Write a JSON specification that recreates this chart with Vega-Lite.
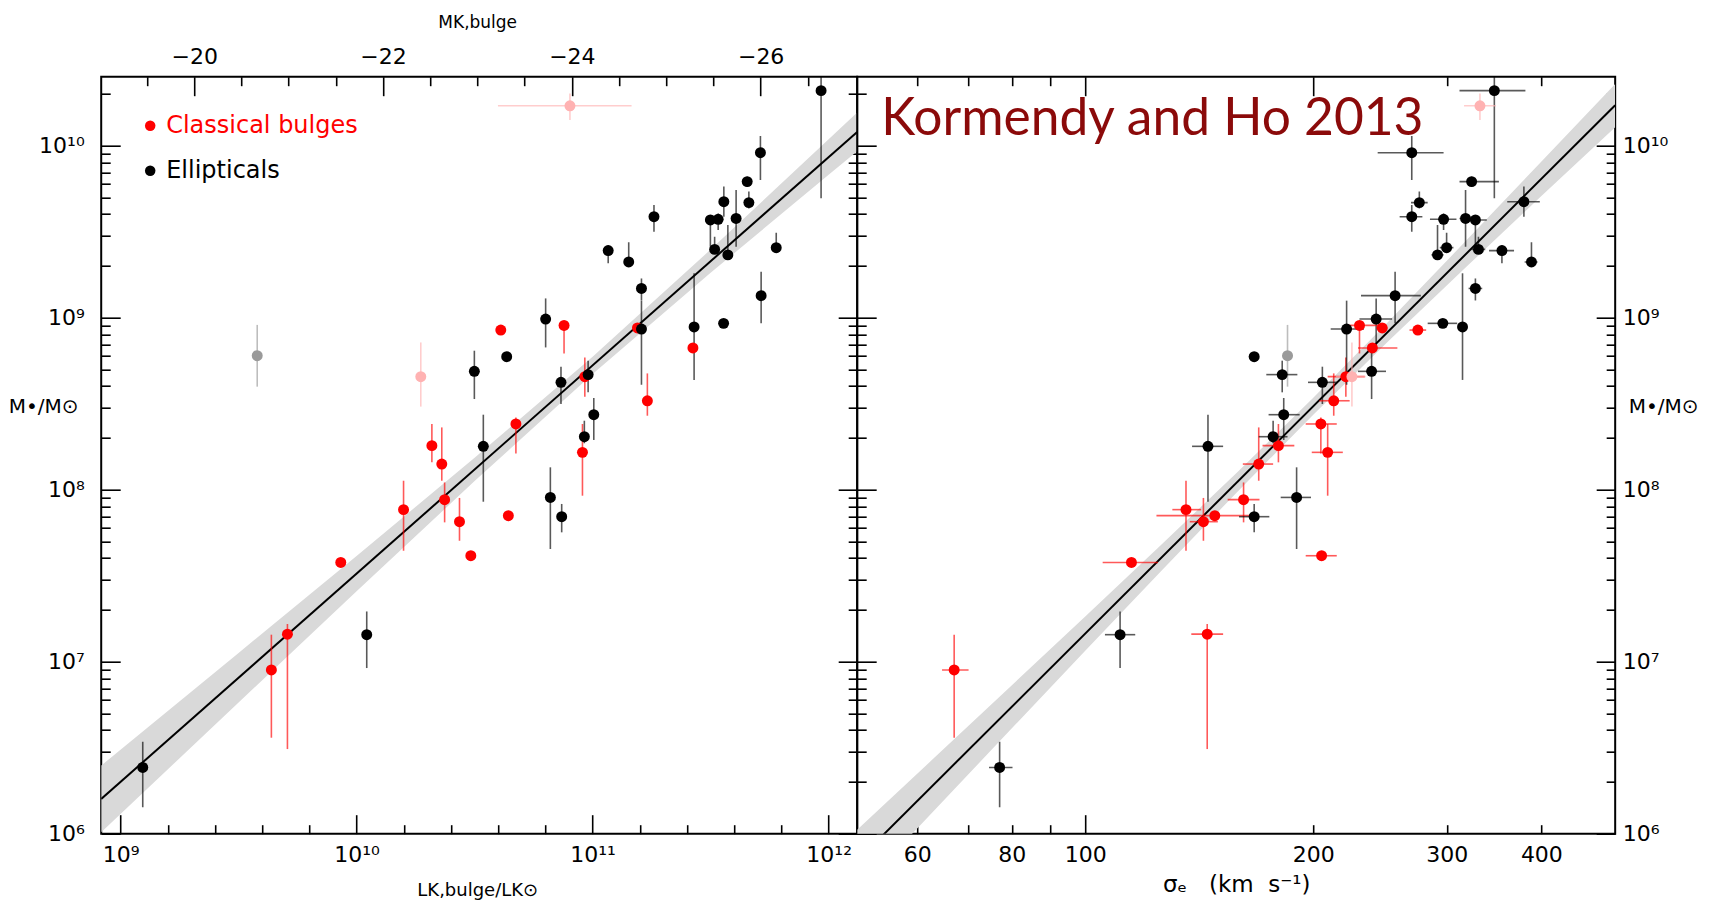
{
  "$schema": "https://vega.github.io/schema/vega-lite/v6.json",
  "background": "white",
  "padding": {"left": 7.2, "top": 12.7, "right": 0, "bottom": 0},
  "datasets": {
    "kh": [
      {"t":"Classical bulges","L":10.611,"M":8.928,"Mlo":8.905,"Mhi":8.95,"S":2.439,"Slo":2.428,"Shi":2.450},
      {"t":"Classical bulges","L":10.879,"M":8.955,"Mlo":8.792,"Mhi":8.97,"S":2.362,"Slo":2.344,"Shi":2.388},
      {"t":"Classical bulges","L":11.190,"M":8.940,"Mlo":8.92,"Mhi":8.96,"S":2.392,"Slo":2.384,"Shi":2.399},
      {"t":"Classical bulges","L":11.425,"M":8.824,"Mlo":8.80,"Mhi":8.85,"S":2.379,"Slo":2.360,"Shi":2.412},
      {"t":"Classical bulges","L":11.232,"M":8.517,"Mlo":8.430,"Mhi":8.676,"S":2.328,"Slo":2.309,"Shi":2.349},
      {"t":"Classical bulges","L":10.967,"M":8.657,"Mlo":8.541,"Mhi":8.769,"S":2.344,"Slo":2.320,"Shi":2.369},
      {"t":"Classical bulges","L":10.957,"M":8.217,"Mlo":7.965,"Mhi":8.382,"S":2.320,"Slo":2.299,"Shi":2.340},
      {"t":"Classical bulges","L":10.675,"M":8.382,"Mlo":8.211,"Mhi":8.420,"S":2.311,"Slo":2.291,"Shi":2.332},
      {"t":"Classical bulges","L":10.319,"M":8.256,"Mlo":8.159,"Mhi":8.382,"S":2.255,"Slo":2.234,"Shi":2.276},
      {"t":"Classical bulges","L":10.361,"M":8.149,"Mlo":8.052,"Mhi":8.362,"S":2.229,"Slo":2.208,"Shi":2.248},
      {"t":"Classical bulges","L":10.373,"M":7.942,"Mlo":7.810,"Mhi":8.042,"S":2.209,"Slo":2.188,"Shi":2.230},
      {"t":"Classical bulges","L":10.199,"M":7.884,"Mlo":7.645,"Mhi":8.052,"S":2.133,"Slo":2.115,"Shi":2.153},
      {"t":"Classical bulges","L":10.436,"M":7.814,"Mlo":7.703,"Mhi":7.952,"S":2.156,"Slo":2.138,"Shi":2.175},
      {"t":"Classical bulges","L":10.643,"M":7.849,"Mlo":7.83,"Mhi":7.87,"S":2.171,"Slo":2.094,"Shi":2.221},
      {"t":"Classical bulges","L":10.484,"M":7.616,"Mlo":7.59,"Mhi":7.64,"S":2.312,"Slo":2.291,"Shi":2.332},
      {"t":"Classical bulges","L":9.933,"M":7.577,"Mlo":7.56,"Mhi":7.59,"S":2.061,"Slo":2.023,"Shi":2.096},
      {"t":"Classical bulges","L":9.707,"M":7.160,"Mlo":6.492,"Mhi":7.219,"S":2.161,"Slo":2.140,"Shi":2.182},
      {"t":"Classical bulges","L":9.639,"M":6.952,"Mlo":6.558,"Mhi":7.157,"S":1.827,"Slo":1.811,"Shi":1.846},
      {"t":"Omitted ellipticals","L":9.579,"M":8.779,"Mlo":8.599,"Mhi":8.958,"S":2.267,"Slo":2.260,"Shi":2.274},
      {"t":"Omitted bulges","L":10.904,"Llo":10.599,"Lhi":11.165,"M":10.232,"Mlo":10.149,"Mhi":10.304,"S":2.521,"Slo":2.500,"Shi":2.542},
      {"t":"Omitted bulges","L":10.272,"M":8.657,"Mlo":8.483,"Mhi":8.856,"S":2.352,"Slo":2.331,"Shi":2.370},
      {"t":"Ellipticals","L":11.968,"M":10.320,"Mlo":9.694,"Mhi":10.57,"S":2.540,"Slo":2.494,"Shi":2.581},
      {"t":"Ellipticals","L":11.711,"M":9.959,"Mlo":9.801,"Mhi":10.056,"S":2.431,"Slo":2.386,"Shi":2.473},
      {"t":"Ellipticals","L":11.655,"M":9.791,"Mlo":9.76,"Mhi":9.82,"S":2.510,"Slo":2.494,"Shi":2.546},
      {"t":"Ellipticals","L":11.662,"M":9.669,"Mlo":9.635,"Mhi":9.733,"S":2.441,"Slo":2.430,"Shi":2.452},
      {"t":"Ellipticals","L":11.556,"M":9.674,"Mlo":9.587,"Mhi":9.762,"S":2.579,"Slo":2.557,"Shi":2.600},
      {"t":"Ellipticals","L":11.499,"M":9.568,"Mlo":9.413,"Mhi":9.59,"S":2.515,"Slo":2.505,"Shi":2.530},
      {"t":"Ellipticals","L":11.532,"M":9.572,"Mlo":9.510,"Mhi":9.606,"S":2.473,"Slo":2.455,"Shi":2.490},
      {"t":"Ellipticals","L":11.608,"M":9.577,"Mlo":9.413,"Mhi":9.742,"S":2.502,"Slo":2.494,"Shi":2.509},
      {"t":"Ellipticals","L":11.517,"M":9.397,"Mlo":9.37,"Mhi":9.471,"S":2.519,"Slo":2.510,"Shi":2.528},
      {"t":"Ellipticals","L":11.573,"M":9.365,"Mlo":9.34,"Mhi":9.539,"S":2.465,"Slo":2.457,"Shi":2.473},
      {"t":"Ellipticals","L":11.778,"M":9.407,"Mlo":9.38,"Mhi":9.494,"S":2.477,"Slo":2.468,"Shi":2.486},
      {"t":"Ellipticals","L":11.260,"M":9.587,"Mlo":9.500,"Mhi":9.655,"S":2.431,"Slo":2.415,"Shi":2.445},
      {"t":"Ellipticals","L":11.066,"M":9.390,"Mlo":9.316,"Mhi":9.42,"S":2.550,"Slo":2.533,"Shi":2.566},
      {"t":"Ellipticals","L":11.153,"M":9.324,"Mlo":9.30,"Mhi":9.438,"S":2.589,"Slo":2.580,"Shi":2.597},
      {"t":"Ellipticals","L":11.207,"M":9.170,"Mlo":9.10,"Mhi":9.228,"S":2.515,"Slo":2.506,"Shi":2.524},
      {"t":"Ellipticals","L":11.207,"M":8.934,"Mlo":8.610,"Mhi":9.099,"S":2.345,"Slo":2.324,"Shi":2.368},
      {"t":"Ellipticals","L":11.714,"M":9.128,"Mlo":8.967,"Mhi":9.267,"S":2.409,"Slo":2.364,"Shi":2.443},
      {"t":"Ellipticals","L":11.430,"M":8.946,"Mlo":8.638,"Mhi":9.258,"S":2.498,"Slo":2.492,"Shi":2.504},
      {"t":"Ellipticals","L":11.555,"M":8.967,"Mlo":8.945,"Mhi":8.99,"S":2.472,"Slo":2.452,"Shi":2.491},
      {"t":"Ellipticals","L":10.801,"M":8.992,"Mlo":8.827,"Mhi":9.112,"S":2.384,"Slo":2.362,"Shi":2.405},
      {"t":"Ellipticals","L":10.636,"M":8.773,"Mlo":8.755,"Mhi":8.80,"S":2.223,"Slo":2.216,"Shi":2.229},
      {"t":"Ellipticals","L":10.499,"M":8.688,"Mlo":8.527,"Mhi":8.808,"S":2.378,"Slo":2.360,"Shi":2.397},
      {"t":"Ellipticals","L":10.866,"M":8.624,"Mlo":8.498,"Mhi":8.715,"S":2.313,"Slo":2.294,"Shi":2.333},
      {"t":"Ellipticals","L":10.981,"M":8.669,"Mlo":8.566,"Mhi":8.750,"S":2.260,"Slo":2.239,"Shi":2.280},
      {"t":"Ellipticals","L":11.005,"M":8.436,"Mlo":8.289,"Mhi":8.533,"S":2.262,"Slo":2.242,"Shi":2.283},
      {"t":"Ellipticals","L":10.965,"M":8.308,"Mlo":8.27,"Mhi":8.401,"S":2.248,"Slo":2.229,"Shi":2.267},
      {"t":"Ellipticals","L":10.537,"M":8.252,"Mlo":7.930,"Mhi":8.436,"S":2.162,"Slo":2.141,"Shi":2.182},
      {"t":"Ellipticals","L":10.821,"M":7.955,"Mlo":7.655,"Mhi":8.130,"S":2.279,"Slo":2.258,"Shi":2.298},
      {"t":"Ellipticals","L":10.869,"M":7.843,"Mlo":7.752,"Mhi":7.917,"S":2.223,"Slo":2.203,"Shi":2.243},
      {"t":"Ellipticals","L":10.043,"M":7.157,"Mlo":6.963,"Mhi":7.292,"S":2.046,"Slo":2.026,"Shi":2.066},
      {"t":"Ellipticals","L":9.094,"M":6.385,"Mlo":6.153,"Mhi":6.535,"S":1.887,"Slo":1.873,"Shi":1.904}
    ],
    "bandL": [
      {"L":8.918,"lo":6.008,"hi":6.396},
      {"L":9.5,"lo":6.763,"hi":7.051},
      {"L":10.0,"lo":7.409,"hi":7.615},
      {"L":10.5,"lo":8.050,"hi":8.185},
      {"L":11.0,"lo":8.673,"hi":8.773},
      {"L":11.5,"lo":9.261,"hi":9.396},
      {"L":12.0,"lo":9.831,"hi":10.037},
      {"L":12.121,"lo":9.968,"hi":10.193}
    ],
    "lineL": [
      {"L":8.918,"M":6.202},
      {"L":12.121,"M":10.080}
    ],
    "bandS": [
      {"S":1.699,"lo":5.661,"hi":6.023},
      {"S":1.8,"lo":6.132,"hi":6.438},
      {"S":1.9,"lo":6.598,"hi":6.850},
      {"S":2.0,"lo":7.063,"hi":7.263},
      {"S":2.1,"lo":7.526,"hi":7.678},
      {"S":2.2,"lo":7.984,"hi":8.099},
      {"S":2.301,"lo":8.436,"hi":8.534},
      {"S":2.4,"lo":8.863,"hi":8.977},
      {"S":2.5,"lo":9.283,"hi":9.435},
      {"S":2.6,"lo":9.698,"hi":9.898},
      {"S":2.6995,"lo":10.107,"hi":10.358}
    ],
    "lineS": [
      {"S":1.699,"M":5.842},
      {"S":2.6995,"M":10.235}
    ],
    "mk": [{"MK": -20}, {"MK": -26}]
  },
  "spacing": 0,
  "bounds": "flush",
  "resolve": {"scale": {"fill": "independent", "color": "independent", "stroke": "independent"}, "legend": {"fill": "independent", "color": "independent"}},
  "hconcat": [
    {
      "width": 756,
      "height": 757,
      "layer": [
        {
          "encoding": {
            "x": {"field": "L", "type": "quantitative",
              "scale": {"domain": [8.918, 12.121], "nice": false, "zero": false},
              "axis": {"orient": "bottom",
                "values": [9, 9.2, 9.4, 9.6, 9.8, 10, 10.2, 10.4, 10.6, 10.8, 11, 11.2, 11.4, 11.6, 11.8, 12],
                "tickSize": {"condition": {"test": "abs(datum.value - round(datum.value)) < 0.001", "value": -19}, "value": -9},
                "labelExpr": "datum.value == 9 ? '10⁹' : datum.value == 10 ? '10¹⁰' : datum.value == 11 ? '10¹¹' : datum.value == 12 ? '10¹²' : ''",
                "labelPadding": 30,
                "title": "LK,bulge/LK⊙", "titleFontSize": 18, "titleX": 376, "titleY": 57, "titleAlign": "center", "titleBaseline": "middle"}},
            "y": {"field": "M", "type": "quantitative",
              "scale": {"domain": [6, 10.401], "nice": false, "zero": false},
              "axis": {"orient": "left",
                "values": [6, 6.30103, 6.47712, 6.60206, 6.69897, 6.77815, 6.8451, 6.90309, 6.95424, 7, 7.30103, 7.47712, 7.60206, 7.69897, 7.77815, 7.8451, 7.90309, 7.95424, 8, 8.30103, 8.47712, 8.60206, 8.69897, 8.77815, 8.8451, 8.90309, 8.95424, 9, 9.30103, 9.47712, 9.60206, 9.69897, 9.77815, 9.8451, 9.90309, 9.95424, 10, 10.30103],
                "tickSize": {"condition": {"test": "abs(datum.value - round(datum.value)) < 0.001", "value": -19}, "value": -9},
                "labelExpr": "datum.value == 6 ? '10⁶' : datum.value == 7 ? '10⁷' : datum.value == 8 ? '10⁸' : datum.value == 9 ? '10⁹' : datum.value == 10 ? '10¹⁰' : ''",
                "labelPadding": 36,
                "title": "M•/M⊙", "titleFontSize": 20, "titleAngle": 0, "titleX": -58, "titleY": 330, "titleAlign": "center", "titleBaseline": "middle"}}
          },
          "layer": [
            {"data": {"name": "bandL"}, "mark": {"type": "area", "color": "#d9d9d9", "clip": true},
             "encoding": {"y": {"field": "lo", "type": "quantitative"}, "y2": {"field": "hi"}}},
            {"data": {"name": "lineL"}, "mark": {"type": "line", "color": "black", "strokeWidth": 2, "clip": true}, "encoding": {}},
            {"data": {"name": "kh"}, "mark": {"type": "rule", "strokeWidth": 1.6, "opacity": 0.65, "clip": true},
             "encoding": {"y": {"field": "Mlo", "type": "quantitative"}, "y2": {"field": "Mhi"},
               "stroke": {"field": "t", "type": "nominal", "legend": null,
                 "scale": {"domain": ["Classical bulges", "Ellipticals", "Omitted ellipticals", "Omitted bulges"], "range": ["#ff0000", "#000000", "#9a9a9a", "#ffb2b2"]}}}},
            {"data": {"name": "kh"}, "transform": [{"filter": "isValid(datum.Llo)"}],
             "mark": {"type": "rule", "strokeWidth": 1.6, "opacity": 0.65, "clip": true},
             "encoding": {"x": {"field": "Llo", "type": "quantitative"}, "x2": {"field": "Lhi"},
               "stroke": {"field": "t", "type": "nominal", "legend": null}}},
            {"data": {"name": "kh"}, "transform": [{"filter": "datum.t != 'Ellipticals'"}],
             "mark": {"type": "point", "filled": true, "size": 120, "opacity": 1, "strokeWidth": 0},
             "encoding": {"fill": {"field": "t", "type": "nominal",
               "scale": {"domain": ["Classical bulges", "Omitted ellipticals", "Omitted bulges"], "range": ["#ff0000", "#9a9a9a", "#ffb2b2"]},
               "legend": {"values": ["Classical bulges"], "orient": "none", "legendX": 37, "legendY": 37, "title": null, "padding": 0,
                 "symbolType": "circle", "symbolSize": 110, "symbolStrokeWidth": 0, "labelFont": "DejaVu Sans", "labelFontSize": 24, "labelOffset": 4, "labelLimit": 0,
                 "labelColor": "#ff0000"}}}},
            {"data": {"name": "kh"}, "transform": [{"filter": "datum.t == 'Ellipticals'"}],
             "mark": {"type": "point", "filled": true, "size": 120, "opacity": 1, "strokeWidth": 0},
             "encoding": {"color": {"field": "t", "type": "nominal",
               "scale": {"domain": ["Ellipticals"], "range": ["#000000"]},
               "legend": {"values": ["Ellipticals"], "orient": "none", "legendX": 37, "legendY": 82, "title": null, "padding": 0,
                 "symbolType": "circle", "symbolSize": 110, "symbolStrokeWidth": 0, "labelFont": "DejaVu Sans", "labelFontSize": 24, "labelOffset": 4, "labelLimit": 0,
                 "labelColor": "#000000"}}}}
          ]
        },
        {
          "data": {"name": "mk"},
          "mark": {"type": "point", "opacity": 0},
          "encoding": {
            "x": {"field": "MK", "type": "quantitative",
              "scale": {"domain": [-19.015, -27.0225], "nice": false, "zero": false},
              "axis": {"orient": "top",
                "values": [-19.5, -20, -20.5, -21, -21.5, -22, -22.5, -23, -23.5, -24, -24.5, -25, -25.5, -26, -26.5],
                "tickSize": {"condition": {"test": "datum.value % 2 == 0", "value": -19}, "value": -9},
                "labelExpr": "datum.value % 2 == 0 ? '−' + abs(datum.value) : ''",
                "labelPadding": 27,
                "title": "MK,bulge", "titleFontSize": 17, "titleX": 376, "titleY": -54, "titleAlign": "center", "titleBaseline": "middle"}}
          }
        },
        {
          "data": {"name": "kh"},
          "mark": {"type": "point", "opacity": 0},
          "encoding": {
            "y": {"field": "M", "type": "quantitative",
              "scale": {"domain": [6, 10.401], "nice": false, "zero": false},
              "axis": {"orient": "right", "labels": false, "title": null,
                "values": [6, 6.30103, 6.47712, 6.60206, 6.69897, 6.77815, 6.8451, 6.90309, 6.95424, 7, 7.30103, 7.47712, 7.60206, 7.69897, 7.77815, 7.8451, 7.90309, 7.95424, 8, 8.30103, 8.47712, 8.60206, 8.69897, 8.77815, 8.8451, 8.90309, 8.95424, 9, 9.30103, 9.47712, 9.60206, 9.69897, 9.77815, 9.8451, 9.90309, 9.95424, 10, 10.30103],
                "tickSize": {"condition": {"test": "abs(datum.value - round(datum.value)) < 0.001", "value": -19}, "value": -9}}}
          }
        }
      ],
      "resolve": {"scale": {"x": "independent", "y": "independent"}, "axis": {"x": "independent", "y": "independent"}}
    },
    {
      "width": 758,
      "height": 757,
      "title": {"text": "Kormendy and Ho 2013", "anchor": "start", "frame": "group", "orient": "top", "offset": 0, "dx": 24, "dy": 111,
        "baseline": "alphabetic", "font": "Lato", "fontSize": 51.5, "fontWeight": "normal", "color": "#8b0a0a"},
      "layer": [
        {
          "encoding": {
            "x": {"field": "S", "type": "quantitative",
              "scale": {"domain": [1.699, 2.6995], "nice": false, "zero": false},
              "axis": {"orient": "bottom",
                "values": [1.77815, 1.8451, 1.90309, 1.95424, 2, 2.30103, 2.47712, 2.60206],
                "tickSize": {"condition": {"test": "datum.value == 2", "value": -19}, "value": -9},
                "labelPadding": {"condition": {"test": "datum.value == 2", "value": 30}, "value": 20},
                "labelExpr": "indexof([60, 80, 100, 200, 300, 400], round(pow(10, datum.value))) >= 0 ? '' + round(pow(10, datum.value)) : ''",
                "title": "σₑ\u00a0\u00a0\u00a0(km\u00a0\u00a0s⁻¹)", "titleFontSize": 23, "titleX": 379, "titleY": 51, "titleAlign": "center", "titleBaseline": "middle"}},
            "y": {"field": "M", "type": "quantitative",
              "scale": {"domain": [6, 10.401], "nice": false, "zero": false},
              "axis": {"orient": "left", "labels": false, "title": null,
                "values": [6, 6.30103, 6.47712, 6.60206, 6.69897, 6.77815, 6.8451, 6.90309, 6.95424, 7, 7.30103, 7.47712, 7.60206, 7.69897, 7.77815, 7.8451, 7.90309, 7.95424, 8, 8.30103, 8.47712, 8.60206, 8.69897, 8.77815, 8.8451, 8.90309, 8.95424, 9, 9.30103, 9.47712, 9.60206, 9.69897, 9.77815, 9.8451, 9.90309, 9.95424, 10, 10.30103],
                "tickSize": {"condition": {"test": "abs(datum.value - round(datum.value)) < 0.001", "value": -19}, "value": -9}}}
          },
          "layer": [
            {"data": {"name": "bandS"}, "mark": {"type": "area", "color": "#d9d9d9", "clip": true},
             "encoding": {"y": {"field": "lo", "type": "quantitative"}, "y2": {"field": "hi"}}},
            {"data": {"name": "lineS"}, "mark": {"type": "line", "color": "black", "strokeWidth": 2, "clip": true}, "encoding": {}},
            {"data": {"name": "kh"}, "mark": {"type": "rule", "strokeWidth": 1.6, "opacity": 0.65, "clip": true},
             "encoding": {"y": {"field": "Mlo", "type": "quantitative"}, "y2": {"field": "Mhi"},
               "stroke": {"field": "t", "type": "nominal", "legend": null,
                 "scale": {"domain": ["Classical bulges", "Ellipticals", "Omitted ellipticals", "Omitted bulges"], "range": ["#ff0000", "#000000", "#9a9a9a", "#ffb2b2"]}}}},
            {"data": {"name": "kh"}, "mark": {"type": "rule", "strokeWidth": 1.6, "opacity": 0.65, "clip": true},
             "encoding": {"x": {"field": "Slo", "type": "quantitative"}, "x2": {"field": "Shi"},
               "stroke": {"field": "t", "type": "nominal", "legend": null}}},
            {"data": {"name": "kh"}, "transform": [{"filter": "datum.t != 'Ellipticals'"}],
             "mark": {"type": "point", "filled": true, "size": 120, "opacity": 1, "strokeWidth": 0},
             "encoding": {"fill": {"field": "t", "type": "nominal", "legend": null,
               "scale": {"domain": ["Classical bulges", "Omitted ellipticals", "Omitted bulges"], "range": ["#ff0000", "#9a9a9a", "#ffb2b2"]}}}},
            {"data": {"name": "kh"}, "transform": [{"filter": "datum.t == 'Ellipticals'"}],
             "mark": {"type": "point", "filled": true, "size": 120, "opacity": 1, "strokeWidth": 0},
             "encoding": {"color": {"field": "t", "type": "nominal", "legend": null,
               "scale": {"domain": ["Ellipticals"], "range": ["#000000"]}}}}
          ]
        },
        {
          "data": {"name": "kh"},
          "mark": {"type": "point", "opacity": 0},
          "encoding": {
            "x": {"field": "S", "type": "quantitative",
              "scale": {"domain": [1.699, 2.6995], "nice": false, "zero": false},
              "axis": {"orient": "top", "labels": false, "title": null,
                "values": [1.77815, 1.8451, 1.90309, 1.95424, 2, 2.30103, 2.47712, 2.60206],
                "tickSize": {"condition": {"test": "datum.value == 2 || datum.value == 2.30103", "value": -19}, "value": -9}}}
          }
        },
        {
          "data": {"name": "kh"},
          "mark": {"type": "point", "opacity": 0},
          "encoding": {
            "y": {"field": "M", "type": "quantitative",
              "scale": {"domain": [6, 10.401], "nice": false, "zero": false},
              "axis": {"orient": "right",
                "values": [6, 6.30103, 6.47712, 6.60206, 6.69897, 6.77815, 6.8451, 6.90309, 6.95424, 7, 7.30103, 7.47712, 7.60206, 7.69897, 7.77815, 7.8451, 7.90309, 7.95424, 8, 8.30103, 8.47712, 8.60206, 8.69897, 8.77815, 8.8451, 8.90309, 8.95424, 9, 9.30103, 9.47712, 9.60206, 9.69897, 9.77815, 9.8451, 9.90309, 9.95424, 10, 10.30103],
                "tickSize": {"condition": {"test": "abs(datum.value - round(datum.value)) < 0.001", "value": -19}, "value": -9},
                "labelExpr": "datum.value == 6 ? '10⁶' : datum.value == 7 ? '10⁷' : datum.value == 8 ? '10⁸' : datum.value == 9 ? '10⁹' : datum.value == 10 ? '10¹⁰' : ''",
                "labelPadding": 26,
                "title": "M•/M⊙", "titleFontSize": 20, "titleAngle": 0, "titleX": 48, "titleY": 330, "titleAlign": "center", "titleBaseline": "middle"}}
          }
        }
      ],
      "resolve": {"scale": {"x": "independent", "y": "independent"}, "axis": {"x": "independent", "y": "independent"}}
    }
  ],
  "config": {
    "font": "DejaVu Sans",
    "view": {"stroke": "black", "strokeWidth": 2},
    "axis": {"grid": false, "domain": false, "tickColor": "black", "tickWidth": 1.6,
      "labelFont": "DejaVu Sans", "labelFontSize": 22, "labelColor": "black",
      "titleFont": "DejaVu Sans", "titleFontWeight": "normal", "titleColor": "black",
      "labelOverlap": false, "labelBound": false, "labelFlush": false}
  }
}
